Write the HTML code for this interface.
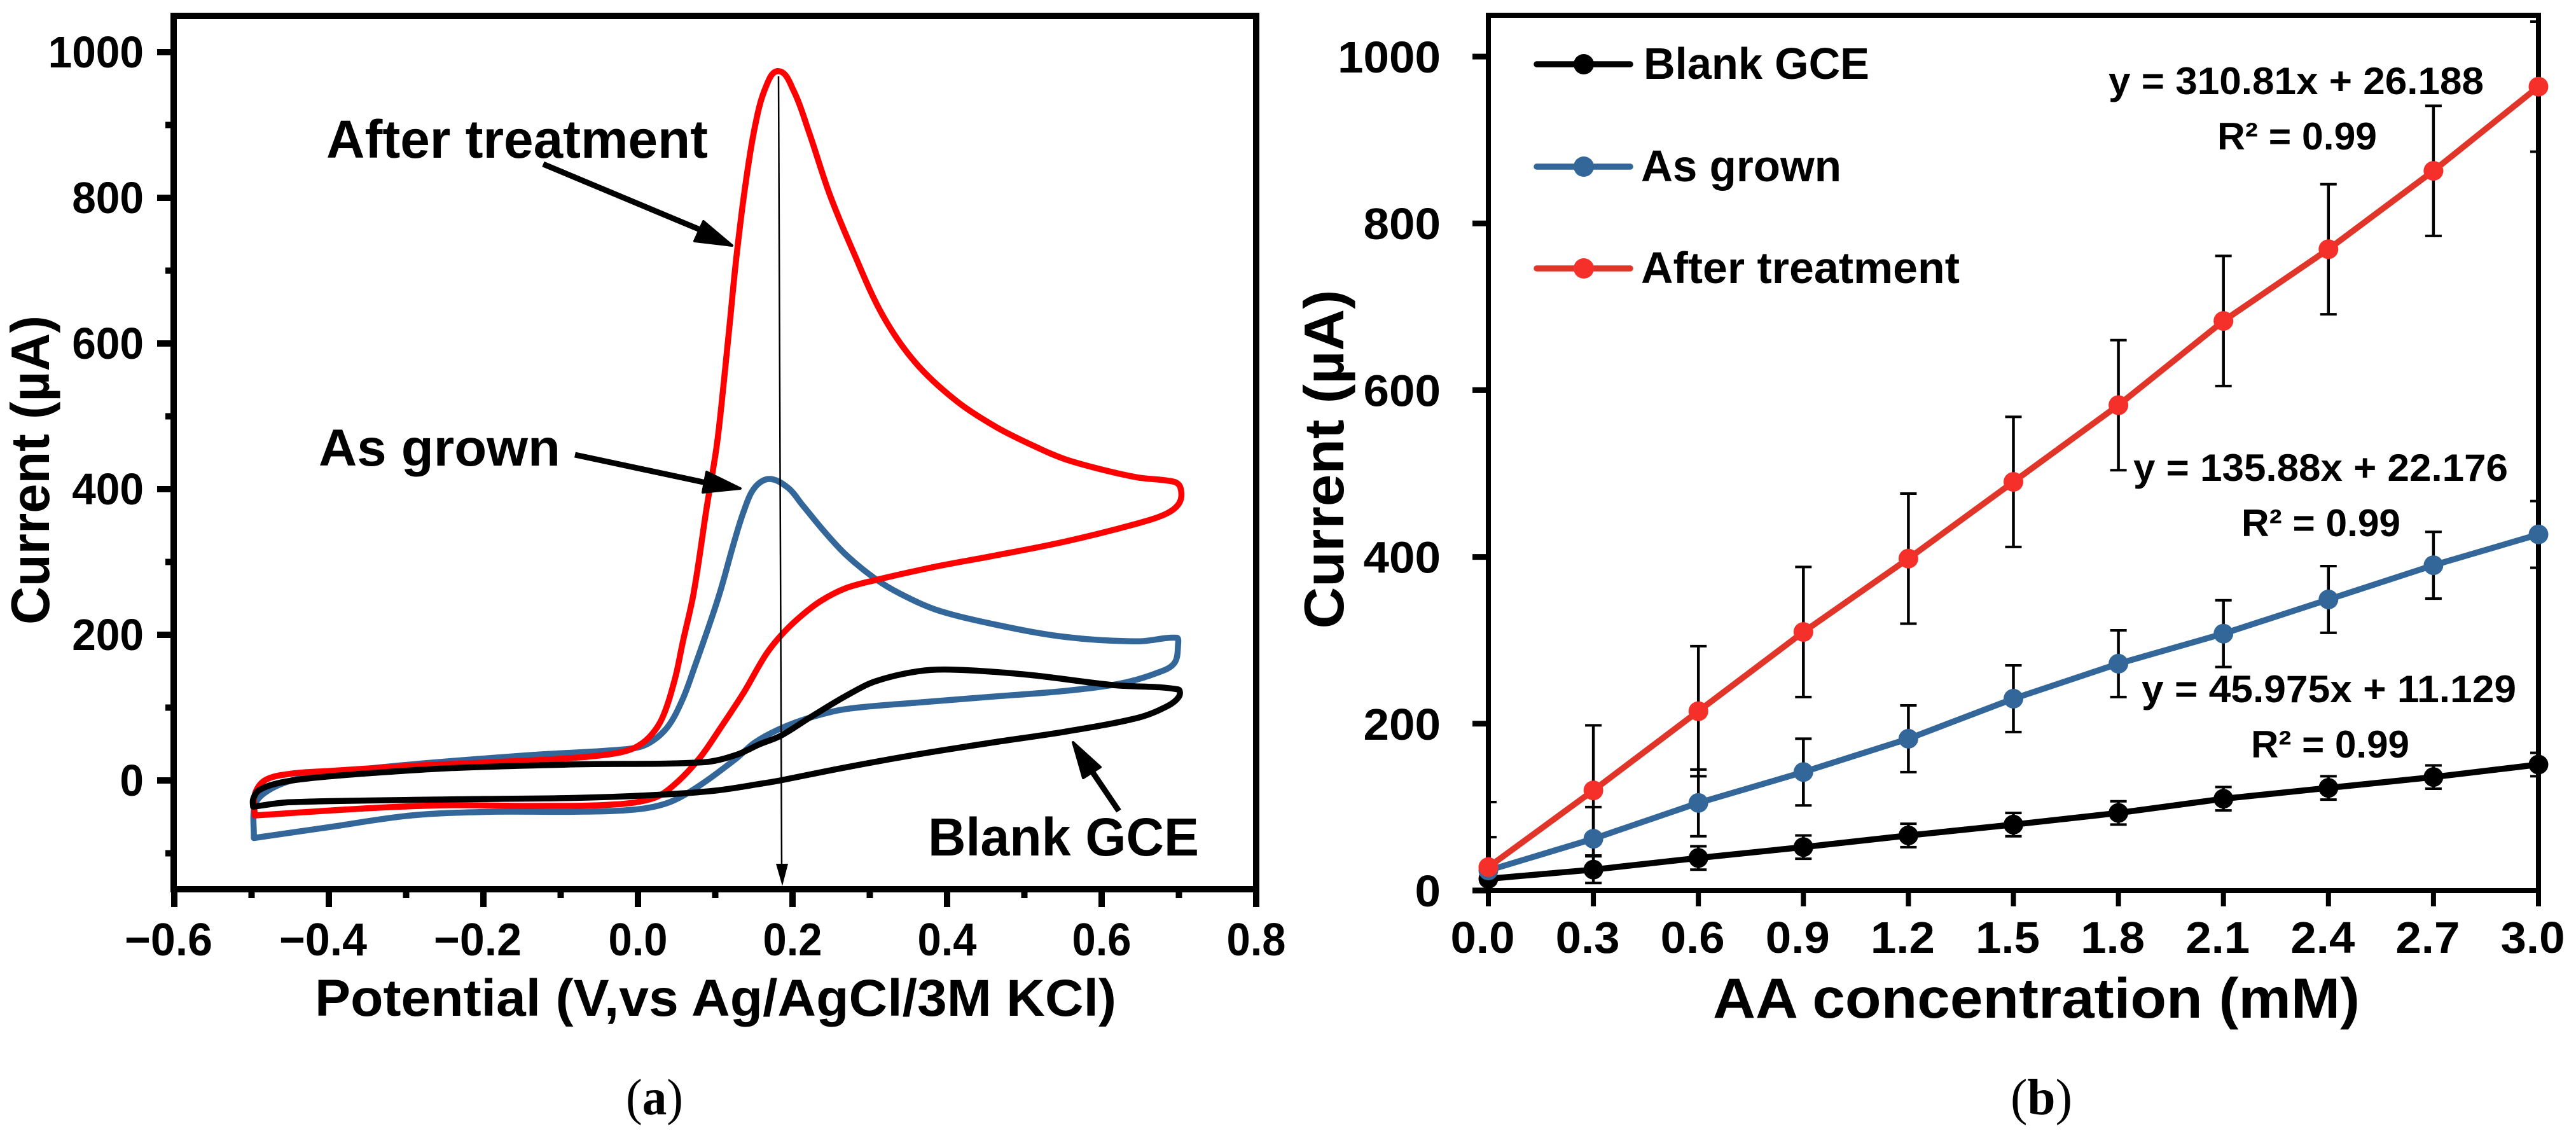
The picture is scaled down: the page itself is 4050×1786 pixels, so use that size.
<!DOCTYPE html>
<html lang="en">
<head>
<meta charset="utf-8">
<title>Cyclic voltammetry and calibration charts</title>
<style>
html,body{margin:0;padding:0;background:#fff;}
body{width:4050px;height:1786px;overflow:hidden;}
svg{display:block;}
text{font-family:"Liberation Sans",Arial,sans-serif;font-weight:700;fill:#000;}
.cap{font-family:"Liberation Serif","Times New Roman",serif;font-weight:400;}
</style>
</head>
<body>
<svg id="figure" xmlns="http://www.w3.org/2000/svg" width="4050" height="1786" viewBox="0 0 4050 1786">
  <rect x="0" y="0" width="4050" height="1786" fill="#fff"/>
  <defs>
    <clipPath id="plotB"><rect x="2340" y="24" width="1651" height="1376"/></clipPath>
  </defs>

  <g id="panelA">
    <rect x="273" y="25" width="1702" height="1373" fill="none" stroke="#000" stroke-width="10"/>
    <g id="aTicks"></g>
    <g id="aCurves"></g>
    <text transform="translate(77,739) rotate(-90)" text-anchor="middle" font-size="85" textLength="486" lengthAdjust="spacingAndGlyphs">Current (µA)</text>
    <text x="495" y="1597" font-size="82" textLength="1260" lengthAdjust="spacingAndGlyphs">Potential (V,vs Ag/AgCl/3M KCl)</text>
    <text x="513" y="248" font-size="84" textLength="600" lengthAdjust="spacingAndGlyphs">After treatment</text>
    <text x="501" y="732" font-size="82" textLength="380" lengthAdjust="spacingAndGlyphs">As grown</text>
    <text x="1459" y="1345" font-size="84" textLength="426" lengthAdjust="spacingAndGlyphs">Blank GCE</text>
    <line x1="1224" y1="120" x2="1229" y2="1370" stroke="#000" stroke-width="2.5"/>
    <polygon points="1220,1358 1239,1358 1230,1393" fill="#000"/>
    <g>
      <line x1="854" y1="258" x2="1110" y2="365" stroke="#000" stroke-width="9"/>
      <polygon points="1106,348 1151,386 1092,379" fill="#000" stroke="#000" stroke-width="4" stroke-linejoin="round"/>
    </g>
    <g>
      <line x1="904" y1="715" x2="1115" y2="760" stroke="#000" stroke-width="9"/>
      <polygon points="1111,742 1164,768 1105,774" fill="#000" stroke="#000" stroke-width="4" stroke-linejoin="round"/>
    </g>
    <g>
      <line x1="1759" y1="1275" x2="1715" y2="1210" stroke="#000" stroke-width="9"/>
      <polygon points="1687,1167 1730,1206 1703,1223" fill="#000" stroke="#000" stroke-width="4" stroke-linejoin="round"/>
    </g>
    <text class="cap" x="984" y="1752" font-size="80" textLength="90" lengthAdjust="spacingAndGlyphs">(<tspan font-weight="700">a</tspan>)</text>
  </g>

  <g id="panelB">
    <rect x="2340" y="24" width="1651" height="1376" fill="none" stroke="#000" stroke-width="8"/>
    <g id="bTicks"></g>
    <g id="bErrors" clip-path="url(#plotB)"></g>
    <g id="bSeries"></g>
    <text transform="translate(2112,722) rotate(-90)" text-anchor="middle" font-size="88" textLength="533" lengthAdjust="spacingAndGlyphs">Current (µA)</text>
    <text x="2693" y="1600" font-size="89" textLength="1017" lengthAdjust="spacingAndGlyphs">AA concentration (mM)</text>
    <g>
      <g>
        <line x1="2416" y1="101" x2="2563" y2="101" stroke="#000" stroke-width="9.5" stroke-linecap="round"/>
        <circle cx="2490" cy="101" r="16" fill="#000"/>
        <text x="2584" y="124" font-size="70" textLength="355" lengthAdjust="spacingAndGlyphs">Blank GCE</text>
      </g>
      <g>
        <line x1="2416" y1="262" x2="2563" y2="262" stroke="#336699" stroke-width="9.5" stroke-linecap="round"/>
        <circle cx="2490" cy="262" r="16" fill="#336699"/>
        <text x="2580" y="285" font-size="70" textLength="315" lengthAdjust="spacingAndGlyphs">As grown</text>
      </g>
      <g>
        <line x1="2416" y1="422" x2="2563" y2="422" stroke="#e2352a" stroke-width="9.5" stroke-linecap="round"/>
        <circle cx="2490" cy="422" r="16" fill="#f5302a"/>
        <text x="2580" y="445" font-size="70" textLength="501" lengthAdjust="spacingAndGlyphs">After treatment</text>
      </g>
    </g>
    <text x="3315" y="148" font-size="60" textLength="590" lengthAdjust="spacingAndGlyphs">y = 310.81x + 26.188</text>
    <text x="3486" y="235" font-size="60" textLength="251" lengthAdjust="spacingAndGlyphs">R² = 0.99</text>
    <text x="3354" y="756" font-size="60" textLength="589" lengthAdjust="spacingAndGlyphs">y = 135.88x + 22.176</text>
    <text x="3524" y="843" font-size="60" textLength="250" lengthAdjust="spacingAndGlyphs">R² = 0.99</text>
    <text x="3367" y="1104" font-size="60" textLength="589" lengthAdjust="spacingAndGlyphs">y = 45.975x + 11.129</text>
    <text x="3539" y="1191" font-size="60" textLength="249" lengthAdjust="spacingAndGlyphs">R² = 0.99</text>
    <text class="cap" x="3161" y="1752" font-size="80" textLength="97" lengthAdjust="spacingAndGlyphs">(<tspan font-weight="700">b</tspan>)</text>
  </g>
</svg>

<script>
// ---------- Panel (a) data: cyclic voltammograms ----------
const aXMajorTicks = [-0.6, -0.4, -0.2, 0.0, 0.2, 0.4, 0.6, 0.8];
const aXTickLabels = ['\u22120.6', '\u22120.4', '\u22120.2', '0.0', '0.2', '0.4', '0.6', '0.8'];
const aXMinorTicks = [-0.5, -0.3, -0.1, 0.1, 0.3, 0.5, 0.7];
const aYMajorTicks = [0, 200, 400, 600, 800, 1000];
const aYMinorTicks = [-100, 100, 300, 500, 700, 900];

const afterPotential = [-0.496,-0.496,-0.483,-0.451,-0.399,-0.293,-0.189,-0.083,-0.03,-0.004,0.016,0.032,0.048,0.058,0.072,0.089,0.102,0.111,0.119,0.127,0.138,0.151,0.165,0.182,0.201,0.222,0.248,0.279,0.316,0.358,0.411,0.464,0.521,0.553,0.6,0.647,0.694,0.702,0.701,0.685,0.647,0.553,0.458,0.387,0.307,0.269,0.236,0.208,0.185,0.165,0.137,0.108,0.08,0.048,0.021,-0.03,-0.136,-0.241,-0.346,-0.496];
const afterCurrent = [-48,-20,0,9,13,20,25,31,37,45,61,87,140,190,257,375,460,546,630,715,810,896,951,974,948,888,805,725,640,575,522,485,455,441,427,416,410,402,382,367,353,328,308,294,275,264,246,223,199,172,121,74,31,-5,-24,-33,-35,-34,-38,-48];

const grownPotential = [-0.497,-0.496,-0.483,-0.451,-0.399,-0.293,-0.136,-0.015,0.012,0.038,0.058,0.074,0.096,0.108,0.123,0.137,0.151,0.17,0.194,0.213,0.241,0.269,0.307,0.34,0.387,0.458,0.553,0.647,0.697,0.699,0.694,0.67,0.624,0.553,0.458,0.363,0.269,0.222,0.184,0.151,0.127,0.074,0.038,-0.004,-0.083,-0.189,-0.293,-0.399,-0.497];
const grownCurrent = [-79,-35,-17,-1,10,22,35,43,50,73,112,158,225,265,322,370,402,414,402,378,342,310,277,256,234,215,197,191,196,188,161,147,133,123,115,107,98,86,71,52,30,-11,-31,-40,-43,-43,-48,-64,-79];

const blankPotential = [-0.498,-0.498,-0.491,-0.467,-0.425,-0.346,-0.241,-0.083,0.085,0.127,0.158,0.184,0.222,0.269,0.307,0.363,0.411,0.506,0.614,0.699,0.7,0.685,0.647,0.553,0.458,0.363,0.269,0.184,0.162,0.1,0.021,-0.083,-0.241,-0.451,-0.498];
const blankCurrent = [-36,-26,-14,-4,3,10,17,22,25,35,50,61,86,116,136,150,152,145,131,125,115,102,86,67,52,36,18,0,-4,-14,-20,-24,-26,-30,-36];

// ---------- Panel (b) data: calibration ----------
const concentration = [0.0, 0.3, 0.6, 0.9, 1.2, 1.5, 1.8, 2.1, 2.4, 2.7, 3.0];
const bXTickLabels = ['0.0', '0.3', '0.6', '0.9', '1.2', '1.5', '1.8', '2.1', '2.4', '2.7', '3.0'];
const bYMajorTicks = [0, 200, 400, 600, 800, 1000];
const blankValues = [14, 25, 39, 52, 66, 79, 93, 110, 123, 136, 151];
const grownValues = [24, 62, 105, 142, 182, 230, 272, 308, 349, 390, 427];
const afterValues = [28, 120, 215, 310, 398, 490, 582, 683, 769, 863, 964];
const blankErrors = [14, 16, 14, 14, 14, 14, 14, 14, 14, 14, 14];
const grownErrors = [40, 38, 40, 40, 40, 40, 40, 40, 40, 40, 40];
const afterErrors = [78, 78, 78, 78, 78, 78, 78, 78, 78, 78, 78];

// ---------- Axis functions ----------
function xA(v) { return 1003 + v * 1215; }
function yA(v) { return 1227 - v * 1.145; }
function xB(v) { return 2340 + v * 550.33; }
function yB(v) { return 1400 - v * 1.311; }

const NS = 'http://www.w3.org/2000/svg';
function make(tag, parent, attrs) {
  const el = document.createElementNS(NS, tag);
  for (const k in attrs) el.setAttribute(k, attrs[k]);
  parent.appendChild(el);
  return el;
}
function smoothPath(xs, ys) {
  const n = xs.length;
  const dirs = xs.map(function (_, i) {
    const a = Math.max(i - 1, 0), b = Math.min(i + 1, n - 1);
    const dx = xs[b] - xs[a], dy = ys[b] - ys[a];
    const len = Math.hypot(dx, dy) || 1;
    return [dx / len, dy / len];
  });
  let d = 'M' + xs[0].toFixed(1) + ' ' + ys[0].toFixed(1);
  for (let i = 0; i < n - 1; i++) {
    const seg = Math.hypot(xs[i + 1] - xs[i], ys[i + 1] - ys[i]) / 3;
    const c1x = xs[i] + dirs[i][0] * seg, c1y = ys[i] + dirs[i][1] * seg;
    const c2x = xs[i + 1] - dirs[i + 1][0] * seg, c2y = ys[i + 1] - dirs[i + 1][1] * seg;
    d += 'C' + c1x.toFixed(1) + ' ' + c1y.toFixed(1) + ' ' + c2x.toFixed(1) + ' ' + c2y.toFixed(1) + ' ' + xs[i + 1].toFixed(1) + ' ' + ys[i + 1].toFixed(1);
  }
  return d;
}

// ---------- Panel (a) axes ----------
const aTicks = document.getElementById('aTicks');
aXMajorTicks.forEach(function (v, i) {
  const t = make('line', aTicks, { x1: xA(v), y1: 1398, x2: xA(v), y2: 1426, stroke: '#000', 'stroke-width': 10 });
  
  
  const minus = v < 0;
  const label = make('text', aTicks, { x: xA(v) - (minus ? 9 : 0), y: 1502, 'text-anchor': 'middle', 'font-size': 72, textLength: minus ? 138 : 93, lengthAdjust: 'spacingAndGlyphs' });
  
  
  label.textContent = aXTickLabels[i];
});
aXMinorTicks.forEach(function (v) {
  const t = make('line', aTicks, { x1: xA(v), y1: 1398, x2: xA(v), y2: 1412, stroke: '#000', 'stroke-width': 10 });
  
  
});
aYMajorTicks.forEach(function (v) {
  const t = make('line', aTicks, { x1: 247, y1: yA(v), x2: 273, y2: yA(v), stroke: '#000', 'stroke-width': 10 });
  
  
  const s = String(v);
  const label = make('text', aTicks, { x: 226, y: yA(v) + 24, 'text-anchor': 'end', 'font-size': 70, textLength: s.length * 37.6, lengthAdjust: 'spacingAndGlyphs' });
  
  
  label.textContent = s;
});
aYMinorTicks.forEach(function (v) {
  const t = make('line', aTicks, { x1: 260, y1: yA(v), x2: 273, y2: yA(v), stroke: '#000', 'stroke-width': 10 });
  
  
});

// ---------- Panel (a) curves ----------
const aCurves = document.getElementById('aCurves');
const grownCurve = make('path', aCurves, { d: smoothPath(grownPotential.map(xA), grownCurrent.map(yA)), fill: 'none', stroke: '#336699', 'stroke-width': 9.5, 'stroke-linejoin': 'round', 'stroke-linecap': 'round' });


const afterCurve = make('path', aCurves, { d: smoothPath(afterPotential.map(xA), afterCurrent.map(yA)), fill: 'none', stroke: '#ff0000', 'stroke-width': 9.5, 'stroke-linejoin': 'round', 'stroke-linecap': 'round' });


const blankCurve = make('path', aCurves, { d: smoothPath(blankPotential.map(xA), blankCurrent.map(yA)), fill: 'none', stroke: '#000', 'stroke-width': 9.5, 'stroke-linejoin': 'round', 'stroke-linecap': 'round' });



// ---------- Panel (b) axes ----------
const bTicks = document.getElementById('bTicks');
concentration.forEach(function (v, i) {
  const t = make('line', bTicks, { x1: xB(v), y1: 1400, x2: xB(v), y2: 1425, stroke: '#000', 'stroke-width': 8 });
  
  
  const label = make('text', bTicks, { x: xB(v) - 9, y: 1498, 'text-anchor': 'middle', 'font-size': 70, textLength: 101, lengthAdjust: 'spacingAndGlyphs' });
  
  
  label.textContent = bXTickLabels[i];
});
bYMajorTicks.forEach(function (v) {
  const t = make('line', bTicks, { x1: 2315, y1: yB(v), x2: 2340, y2: yB(v), stroke: '#000', 'stroke-width': 9 });
  
  
  const s = String(v);
  const label = make('text', bTicks, { x: 2265, y: yB(v) + 25, 'text-anchor': 'end', 'font-size': 70, textLength: s.length * 40.5, lengthAdjust: 'spacingAndGlyphs' });
  
  
  label.textContent = s;
});

// ---------- Panel (b) error bars and series ----------
const bErrors = document.getElementById('bErrors');
const bSeries = document.getElementById('bSeries');

function drawErrors(values, errors) {
  concentration.forEach(function (c, i) {
    const cx = xB(c), top = yB(values[i] + errors[i]), bot = yB(values[i] - errors[i]);
    const stem = make('line', bErrors, { x1: cx, y1: top, x2: cx, y2: bot, stroke: '#000', 'stroke-width': 4.5 });
    
    
    const capTop = make('line', bErrors, { x1: cx - 13, y1: top, x2: cx + 13, y2: top, stroke: '#000', 'stroke-width': 4 });
    
    
    const capBot = make('line', bErrors, { x1: cx - 13, y1: bot, x2: cx + 13, y2: bot, stroke: '#000', 'stroke-width': 4 });
    
    
  });
}
drawErrors(afterValues, afterErrors);
drawErrors(grownValues, grownErrors);
drawErrors(blankValues, blankErrors);

function drawSeries(values, lineColor, markerColor, name) {
  const pts = concentration.map(function (c, i) { return xB(c).toFixed(1) + ',' + yB(values[i]).toFixed(1); }).join(' ');
  const line = make('polyline', bSeries, { points: pts, fill: 'none', stroke: lineColor, 'stroke-width': 9.5, 'stroke-linejoin': 'round' });
  
  
  concentration.forEach(function (c, i) {
    const dot = make('circle', bSeries, { cx: xB(c), cy: yB(values[i]), r: 15.5, fill: markerColor });
    
    
  });
}
drawSeries(blankValues, '#000', '#000', 'blank-gce');
drawSeries(grownValues, '#336699', '#336699', 'as-grown');
drawSeries(afterValues, '#e2352a', '#f5302a', 'after-treatment');
</script>
</body>
</html>
